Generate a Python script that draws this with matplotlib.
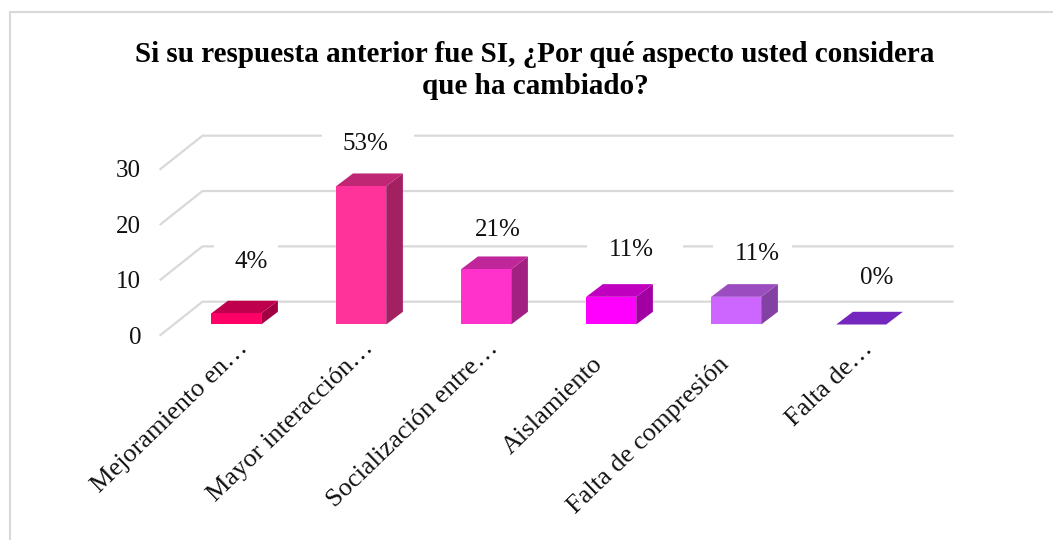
import matplotlib
matplotlib.use("Agg")
import matplotlib.pyplot as plt
from matplotlib.patches import Polygon, Rectangle

categories = ["Mejoramiento en…", "Mayor interacción…", "Socialización entre…",
              "Aislamiento", "Falta de compresión", "Falta de…"]
values = [2, 25, 10, 5, 5, 0]
pct_labels = ["4%", "53%", "21%", "11%", "11%", "0%"]
y_ticks = [0, 10, 20, 30]

front_colors = ["#FF0066", "#FF3399", "#FF33CC", "#FF00FF", "#CC66FF", "#7A28C0"]
top_colors = ["#BF004C", "#BF2673", "#BF2699", "#BF00BF", "#9B4DC0", "#7426BE"]
side_colors = ["#A30041", "#A32062", "#A32083", "#A300A3", "#8241A3", "#5C1E96"]

W, H = 1053, 540
PX_X = 125.0
PX_Y = 5.533

plt.rcParams["font.family"] = ["Liberation Serif", "DejaVu Serif"]

fig = plt.figure(figsize=(W / 100, H / 100), dpi=100)
fig.patch.set_facecolor("white")

# chart frame, runs off the right and bottom edge of the picture
fig.add_artist(Rectangle((10 / W, 1 - 560 / H), 1100 / W, 548 / H, transform=fig.transFigure,
                         fill=False, edgecolor="#D9D9D9", lw=1.5))

fig.text(535 / W, 1 - 54 / H, "Si su respuesta anterior fue SI, ¿Por qué aspecto usted considera",
         ha="center", va="center", fontsize=21, fontweight="bold")
fig.text(535 / W, 1 - 87 / H, "que ha cambiado?",
         ha="center", va="center", fontsize=21, fontweight="bold")

# axes is the front plane of the 3d box
ax = fig.add_axes([160.5 / W, 1 - 335 / H, 750 / W, 166 / H])
ax.set_xlim(-0.5, 5.5)
ax.set_ylim(0, 30)
ax.patch.set_visible(False)
for s in ax.spines.values():
    s.set_visible(False)

wall_dx = 42 / PX_X
wall_dy = 33.3 / PX_Y
for t in y_ticks:
    ax.plot([-0.5, -0.5 + wall_dx, 5.5 + wall_dx], [t, t + wall_dy, t + wall_dy],
            color="#D9D9D9", lw=1.6, clip_on=False, zorder=1)

# bars sit a bit behind the front plane
bar_w = 50 / PX_X
shift_x = 13.2 / PX_X
base = 10.5 / PX_Y
dep_x = 16.7 / PX_X
dep_y = 12.7 / PX_Y
for i, v in enumerate(values):
    x0 = i + shift_x - bar_w / 2
    x1 = x0 + bar_w
    y0 = base
    y1 = base + v
    ax.add_patch(Polygon([(x1, y0), (x1 + dep_x, y0 + dep_y), (x1 + dep_x, y1 + dep_y), (x1, y1)],
                         facecolor=side_colors[i], edgecolor="none", clip_on=False, zorder=3))
    ax.add_patch(Polygon([(x0, y1), (x1, y1), (x1 + dep_x, y1 + dep_y), (x0 + dep_x, y1 + dep_y)],
                         facecolor=top_colors[i], edgecolor="none", clip_on=False, zorder=3))
    ax.add_patch(Rectangle((x0, y0), bar_w, v, facecolor=front_colors[i], edgecolor="none",
                           clip_on=False, zorder=4))

# data labels, hand placed like the original, with the white box behind
label_x = [251, 365, 498, 631, 757, 877]
label_y = [262, 144, 230, 250, 254, 278]
gap_l = [214, 322, 470, 587, 713, 850]
gap_r = [278, 414, 526, 683, 792, 905]
for i, lab in enumerate(pct_labels):
    xd = (label_x[i] - 160.5) / PX_X - 0.5
    yd = (335 - label_y[i]) / PX_Y
    gl = (gap_l[i] - 160.5) / PX_X - 0.5
    gw = (gap_r[i] - gap_l[i]) / PX_X
    ax.add_patch(Rectangle((gl, yd - 12 / PX_Y), gw, 30 / PX_Y, facecolor="white",
                           edgecolor="none", clip_on=False, zorder=2))
    ax.text(xd, yd, lab, ha="center", va="center", fontsize=18, color="#111111", zorder=5)

ax.set_yticks(y_ticks)
ax.set_yticklabels([str(t) for t in y_ticks], fontsize=18, color="#111111")
ax.tick_params(axis="both", length=0)
ax.tick_params(axis="y", pad=14)

# category labels placed one by one, the truncated ones end further right in the original
ax.set_xticks(range(len(categories)))
ax.set_xticklabels([])
label_dx = [14, 14, 14, -6, -5, 14]
label_dy = [-2, -2, -2, -18, -18, -3]
for i, cat in enumerate(categories):
    ax.annotate(cat, xy=(i, 0), xycoords=("data", "axes fraction"),
                xytext=(label_dx[i] * 0.72, label_dy[i] * 0.72), textcoords="offset points",
                rotation=44, ha="right", va="top", rotation_mode="anchor",
                fontsize=19, color="#111111", annotation_clip=False)

fig.savefig("out.png", dpi=100)
